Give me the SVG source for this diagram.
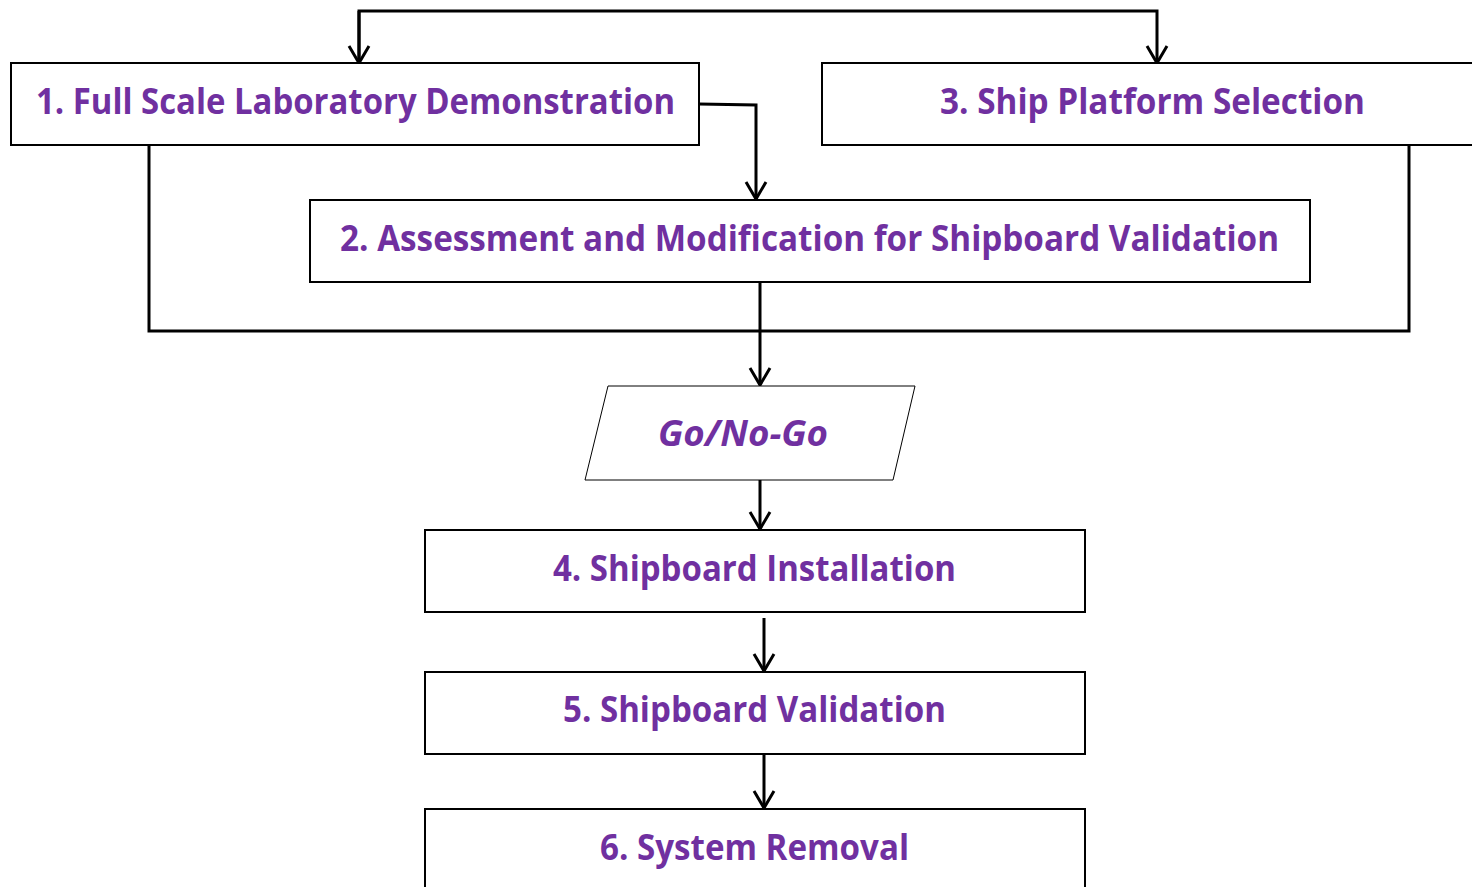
<svg xmlns="http://www.w3.org/2000/svg" width="1472" height="887" viewBox="0 0 1472 887">
<style>
.box{fill:#fff;stroke:#000;stroke-width:2}
.lbl{font-family:"Open Sans","Liberation Sans",sans-serif;font-weight:bold;font-size:35px;fill:#7030A0;text-anchor:middle}
.it{font-style:italic}
.conn{fill:none;stroke:#000;stroke-width:3}
</style>
<defs>
<marker id="arr" markerWidth="24" markerHeight="24" viewBox="0 0 24 24" refX="21" refY="12" orient="auto" markerUnits="userSpaceOnUse">
<path d="M4,2 L21,12 L4,22" fill="none" stroke="#000" stroke-width="3"/>
</marker>
</defs>
<rect width="1472" height="887" fill="#fff"/>
<g id="connectors">
<path class="conn" d="M359,63 L359,11 L1157,11 L1157,63" marker-end="url(#arr)"/>
<path class="conn" d="M359,11 L359,63" marker-end="url(#arr)"/>
<path class="conn" d="M699,104 L756,105 L756,199" marker-end="url(#arr)"/>
<path class="conn" d="M149,146 L149,331 L1409,331 L1409,146"/>
<path class="conn" d="M760,283 L760,385" marker-end="url(#arr)"/>
<path class="conn" d="M760,477 L760,529" marker-end="url(#arr)"/>
<path class="conn" d="M764,618 L764,671" marker-end="url(#arr)"/>
<path class="conn" d="M764,755 L764,808" marker-end="url(#arr)"/>
</g>
<g id="node1">
<rect class="box" x="11" y="63" width="688" height="82"/>
<text class="lbl" x="355.5" y="114" textLength="639" lengthAdjust="spacingAndGlyphs">1. Full Scale Laboratory Demonstration</text>
</g>
<g id="node3">
<rect class="box" x="822" y="63" width="670" height="82"/>
<text class="lbl" x="1152.5" y="114" textLength="425" lengthAdjust="spacingAndGlyphs">3. Ship Platform Selection</text>
</g>
<g id="node2">
<rect class="box" x="310" y="200" width="1000" height="82"/>
<text class="lbl" x="809.5" y="251" textLength="939" lengthAdjust="spacingAndGlyphs">2. Assessment and Modification for Shipboard Validation</text>
</g>
<g id="gonogo">
<polygon points="608,386 915,386 893,480 585,480" fill="#fff" stroke="#000" stroke-width="1"/>
<text class="lbl it" x="743" y="446" textLength="170" lengthAdjust="spacingAndGlyphs">Go/No-Go</text>
</g>
<g id="node4">
<rect class="box" x="425" y="530" width="660" height="82"/>
<text class="lbl" x="754.5" y="581" textLength="403" lengthAdjust="spacingAndGlyphs">4. Shipboard Installation</text>
</g>
<g id="node5">
<rect class="box" x="425" y="672" width="660" height="82"/>
<text class="lbl" x="754.5" y="722" textLength="383" lengthAdjust="spacingAndGlyphs">5. Shipboard Validation</text>
</g>
<g id="node6">
<rect class="box" x="425" y="809" width="660" height="100"/>
<text class="lbl" x="754.5" y="860" textLength="309" lengthAdjust="spacingAndGlyphs">6. System Removal</text>
</g>
</svg>
